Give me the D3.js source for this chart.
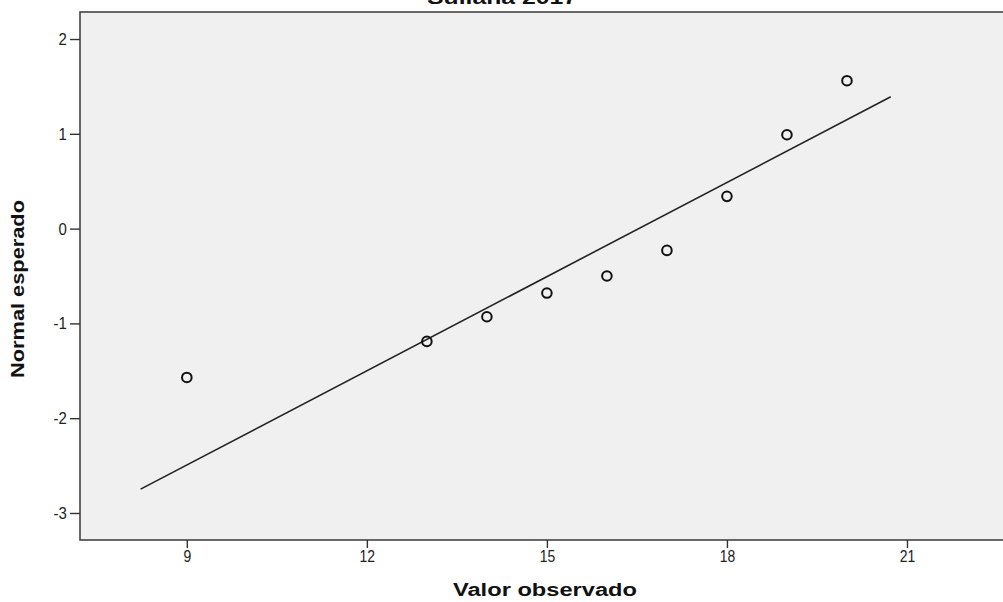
<!DOCTYPE html>
<html><head><meta charset="utf-8">
<script src="https://cdn.jsdelivr.net/npm/d3@7"></script>
<style>
html,body{margin:0;padding:0;background:#fff;overflow:hidden}
text{font-family:"Liberation Sans",Arial,sans-serif}
</style></head>
<body>
<svg id="chart" width="1003" height="602"></svg>
<script>
// Data
const title = "Sullana 2017";
const xLabel = "Valor observado";
const yLabel = "Normal esperado";
const observed = [9, 13, 14, 15, 16, 17, 18, 19, 20];
const expectedNormal = [-1.57, -1.19, -0.93, -0.68, -0.50, -0.23, 0.34, 0.99, 1.56];
const xTicks = [9, 12, 15, 18, 21];
const yTicks = [2, 1, 0, -1, -2, -3];
const xDomain = [7.22, 22.6];
const yDomain = [-3.285, 2.285];
const lineMean = [16.53];
const lineSd = [3.02];
const lineXRange = [8.23, 20.73];

const svg = d3.select("#chart");
const m = {left: 80, top: 12, right: 0, bottom: 540};
const x = d3.scaleLinear().domain(xDomain).range([m.left, 1003]);
const y = d3.scaleLinear().domain(yDomain).range([m.bottom, m.top]);

// plot background
svg.append("rect").attr("x", m.left).attr("y", m.top)
  .attr("width", 1010 - m.left).attr("height", m.bottom - m.top)
  .attr("fill", "#f0f0f0").attr("stroke", "#444").attr("stroke-width", 1.6);

// x axis
const xa = svg.append("g").attr("transform", `translate(0,${m.bottom})`)
  .call(d3.axisBottom(x).tickValues(xTicks).tickSize(8).tickSizeOuter(0).tickPadding(2));
xa.attr("font-size", null);
xa.select(".domain").remove();
xa.selectAll("line").attr("stroke", "#333").attr("stroke-width", 1.4);
xa.selectAll("text").attr("font-size", 17).style("font-size", "17px").attr("fill", "#222")
  .attr("transform", "scale(0.82,1)");

// y axis
const ya = svg.append("g").attr("transform", `translate(${m.left},0)`)
  .call(d3.axisLeft(y).tickValues(yTicks).tickSize(10).tickSizeOuter(0).tickPadding(2)
    .tickFormat(d => d < 0 ? "-" + Math.abs(d) : d));
ya.attr("font-size", null);
ya.select(".domain").remove();
ya.selectAll("line").attr("stroke", "#333").attr("stroke-width", 1.4);
ya.selectAll("text").attr("font-size", 17).style("font-size", "17px").attr("fill", "#222")
  .attr("x", -15).attr("transform", "scale(0.88,1)");

// reference line
const lineData = lineXRange.map(v => [v, (v - lineMean[0]) / lineSd[0]]);
svg.append("path").datum(lineData)
  .attr("d", d3.line().x(d => x(d[0])).y(d => y(d[1])))
  .attr("fill", "none").attr("stroke", "#222").attr("stroke-width", 1.6);

// points
svg.append("g").selectAll("circle")
  .data(observed.map((v, i) => [v, expectedNormal[i]]))
  .join("circle")
  .attr("cx", d => x(d[0])).attr("cy", d => y(d[1]))
  .attr("r", 4.8).attr("fill", "none").attr("stroke", "#111").attr("stroke-width", 2);

// titles
svg.append("text").attr("x", 502).attr("y", 4).attr("text-anchor", "middle")
  .attr("font-size", 18).attr("font-weight", "bold").attr("fill", "#111")
  .attr("textLength", 150).attr("lengthAdjust", "spacingAndGlyphs").text(title);

svg.append("text").attr("x", 545).attr("y", 596).attr("text-anchor", "middle")
  .attr("font-size", 18).attr("font-weight", "bold").attr("fill", "#111")
  .attr("textLength", 184).attr("lengthAdjust", "spacingAndGlyphs").text(xLabel);

svg.append("text").attr("transform", "translate(24,289) rotate(-90)").attr("text-anchor", "middle")
  .attr("font-size", 18).attr("font-weight", "bold").attr("fill", "#111")
  .attr("textLength", 178).attr("lengthAdjust", "spacingAndGlyphs").text(yLabel);
</script>
</body></html>
